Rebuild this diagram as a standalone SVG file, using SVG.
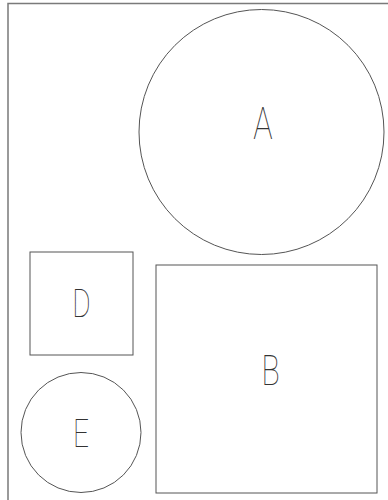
<svg xmlns="http://www.w3.org/2000/svg" width="388" height="500" viewBox="0 0 388 500">
<style>
.shape{fill:none;stroke:#555;stroke-width:1}
.frame{fill:none;stroke:#7a7a7a;stroke-width:1.5}
.lbl{font-family:Roboto,"DejaVu Sans",sans-serif;font-weight:100;fill:#333;text-anchor:middle}
</style>
<rect width="388" height="500" fill="#fff"/>
<rect class="frame" x="8" y="3.5" width="400" height="520"/>
<g id="A">
<circle class="shape" cx="261.5" cy="132" r="122.5"/>
<text class="lbl" font-size="45" transform="translate(263,139) scale(0.72,1)">A</text>
</g>
<g id="D">
<rect class="shape" x="30" y="252" width="103" height="103"/>
<text class="lbl" font-size="39" transform="translate(81.5,317) scale(0.72,1)">D</text>
</g>
<g id="B">
<rect class="shape" x="156" y="265" width="221" height="228"/>
<text class="lbl" font-size="42" transform="translate(270.5,385) scale(0.72,1)">B</text>
</g>
<g id="E">
<circle class="shape" cx="81" cy="432.5" r="60"/>
<text class="lbl" font-size="39" transform="translate(81,447) scale(0.72,1)">E</text>
</g>
<g id="connectors"/>
</svg>
